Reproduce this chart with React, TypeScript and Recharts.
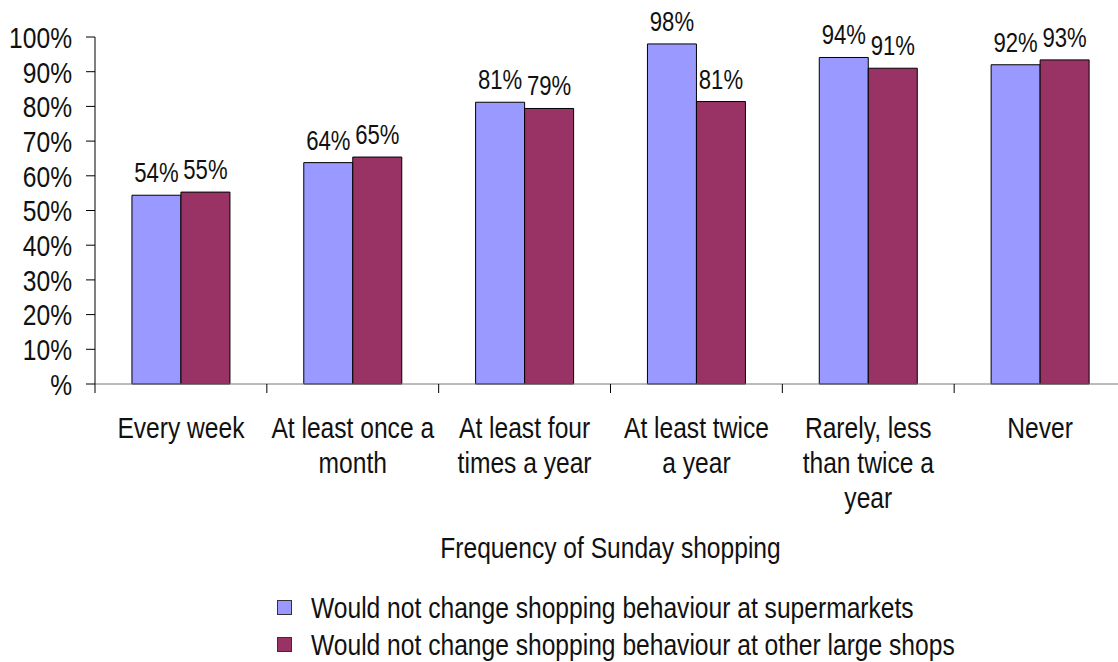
import { BarChart, Bar, XAxis, YAxis, LabelList, Legend } from "recharts";

const categories = [
  "Every week",
  "At least once a\nmonth",
  "At least four\ntimes a year",
  "At least twice\na year",
  "Rarely, less\nthan twice a\nyear",
  "Never",
];
const supermarkets = [54.4, 63.8, 81.2, 98.0, 94.1, 92.0];
const otherShops = [55.3, 65.4, 79.4, 81.4, 91.0, 93.4];
const yTicks = [0, 10, 20, 30, 40, 50, 60, 70, 80, 90, 100];

const series = [
  { key: "sup", name: "Would not change shopping behaviour at supermarkets", color: "#9999FF" },
  { key: "oth", name: "Would not change shopping behaviour at other large shops", color: "#993366" },
];

const data = categories.map((name, i) => ({
  name,
  sup: supermarkets[i],
  oth: otherShops[i],
}));

// no Arial Narrow available, so squeeze Liberation Sans horizontally
const FONT = '"Liberation Sans", Arial, sans-serif';
const SQUEEZE = 0.82;
const CHART_W = 1140;
const Y_AXIS_W = 95;
const MARGIN_RIGHT = 14;
const BAND = (CHART_W - Y_AXIS_W - MARGIN_RIGHT) / categories.length;

function NarrowText({ x, y, anchor = "middle", size = 30, dy = 0, children }: any) {
  return (
    <text
      transform={`translate(${x},${y}) scale(${SQUEEZE},1)`}
      textAnchor={anchor}
      dy={dy}
      fontSize={size}
      fill="#111"
      fontFamily={FONT}
    >
      {children}
    </text>
  );
}

function CategoryTick(props: any) {
  const { x, y, payload, index } = props;
  const lines = String(payload.value).split("\n");
  return (
    <g>
      <line x1={x - BAND / 2} x2={x - BAND / 2} y1={y - 9} y2={y} stroke="#000" />
      {index === categories.length - 1 && (
        <line x1={x + BAND / 2} x2={x + BAND / 2} y1={y - 9} y2={y} stroke="#000" />
      )}
      {lines.map((l, i) => (
        <NarrowText key={i} x={x} y={y + 45 + i * 35}>
          {l}
        </NarrowText>
      ))}
    </g>
  );
}

function PercentTick(props: any) {
  const { x, y, payload } = props;
  const v = payload.value;
  return (
    <NarrowText x={x} y={y} anchor="end" dy="0.36em">
      {v === 0 ? "%" : `${v}%`}
    </NarrowText>
  );
}

function ValueLabel(props: any) {
  const { x, y, width, value } = props;
  return (
    <NarrowText x={x + width / 2} y={y - 13} size={27}>
      {`${Math.round(value)}%`}
    </NarrowText>
  );
}

function AxisTitle(props: any) {
  const { viewBox } = props;
  return (
    <NarrowText x={viewBox.x + viewBox.width / 2} y={viewBox.y + viewBox.height - 24}>
      Frequency of Sunday shopping
    </NarrowText>
  );
}

function LegendBox() {
  return (
    <div style={{ paddingTop: 7, fontFamily: FONT, fontSize: 30, color: "#111" }}>
      {series.map((s) => (
        <div key={s.key} style={{ display: "flex", alignItems: "center", height: 37, whiteSpace: "nowrap" }}>
          <span
            style={{
              display: "inline-block",
              width: 13,
              height: 13,
              background: s.color,
              border: "1px solid #333",
              marginRight: 19,
              flex: "none",
            }}
          />
          <span
            style={{
              display: "inline-block",
              transform: `scaleX(${SQUEEZE})`,
              transformOrigin: "left center",
            }}
          >
            {s.name}
          </span>
        </div>
      ))}
    </div>
  );
}

export default function App() {
  return (
    <div
      style={{
        position: "absolute",
        left: 0,
        top: 0,
        width: 1118,
        height: 662,
        overflow: "hidden",
        background: "#fff",
      }}
    >
      <BarChart
        width={CHART_W}
        height={662}
        data={data}
        margin={{ top: 37, right: MARGIN_RIGHT, left: 0, bottom: 0 }}
        barCategoryGap="21.5%"
        barGap={0}
      >
        <XAxis
          dataKey="name"
          height={198}
          tickLine={false}
          tickSize={9}
          tickMargin={0}
          stroke="#777"
          interval={0}
          tick={<CategoryTick />}
          label={<AxisTitle />}
        />
        <YAxis
          width={Y_AXIS_W}
          domain={[0, 100]}
          ticks={yTicks}
          interval={0}
          tickSize={9}
          tickMargin={14}
          stroke="#000"
          tick={<PercentTick />}
        />
        <Legend
          layout="vertical"
          verticalAlign="bottom"
          height={80}
          content={<LegendBox />}
          wrapperStyle={{ left: 277, bottom: 0, width: "auto" }}
        />
        {series.map((s) => (
          <Bar
            key={s.key}
            dataKey={s.key}
            name={s.name}
            fill={s.color}
            stroke="#000"
            strokeWidth={1}
            isAnimationActive={false}
          >
            <LabelList dataKey={s.key} content={<ValueLabel />} />
          </Bar>
        ))}
      </BarChart>
    </div>
  );
}
